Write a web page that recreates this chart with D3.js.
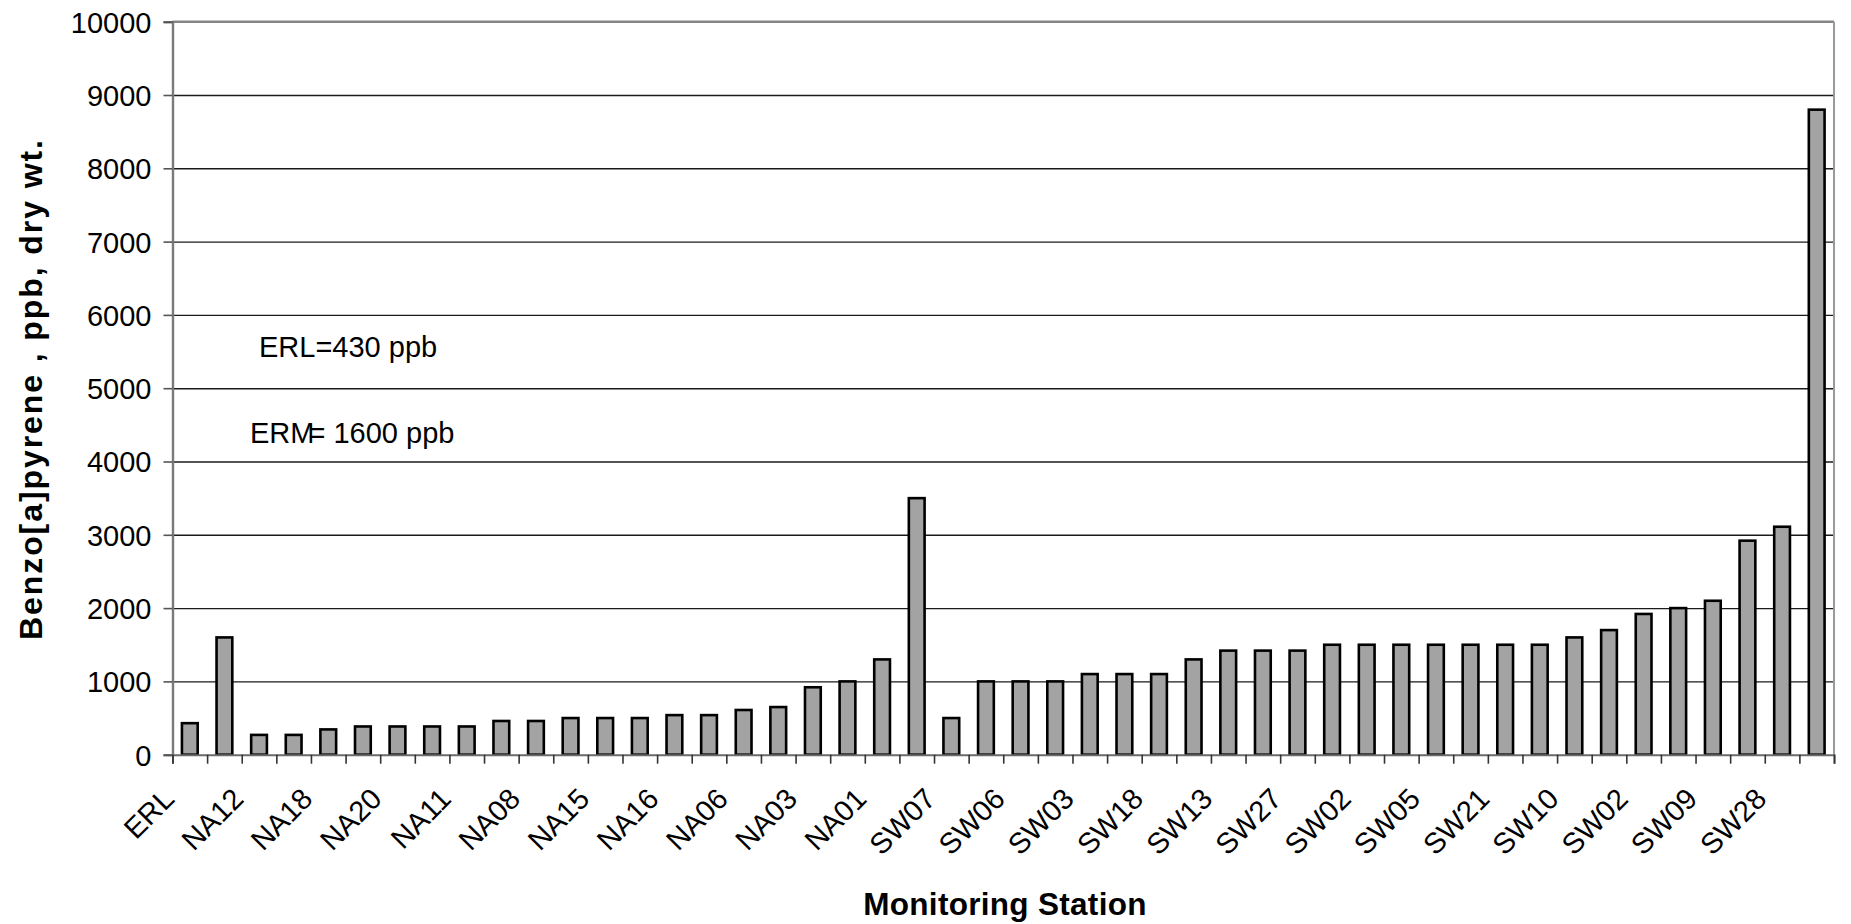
<!DOCTYPE html>
<html>
<head>
<meta charset="utf-8">
<script src="https://cdn.jsdelivr.net/npm/d3@7"></script>
<style>
  html, body { margin: 0; padding: 0; background: #fff; }
  svg { display: block; font-family: "Liberation Sans", Arial, sans-serif; }
</style>
</head>
<body>
<svg id="chart" width="1851" height="924"></svg>
<script>
// Benzo[a]pyrene concentration per monitoring station (ppb, dry wt.), in plotted order.
const values = [
  430, 1600, 270, 270, 345, 385, 385, 385, 385, 460,
  460, 500, 500, 500, 540, 540, 610, 650, 920, 1000,
  1300, 3500, 500, 1000, 1000, 1000, 1100, 1100, 1100, 1300,
  1420, 1420, 1420, 1500, 1500, 1500, 1500, 1500, 1500, 1500,
  1600, 1700, 1920, 2000, 2100, 2920, 3110, 8800
];

// Station names shown on the axis (every second bar carries a label).
const stationLabels = [
  "ERL", "NA12", "NA18", "NA20", "NA11", "NA08", "NA15", "NA16",
  "NA06", "NA03", "NA01", "SW07", "SW06", "SW03", "SW18", "SW13",
  "SW27", "SW02", "SW05", "SW21", "SW10", "SW02", "SW09", "SW28"
];
const labelStep = 2;

// Value axis ticks
const yTicks = [0, 1000, 2000, 3000, 4000, 5000, 6000, 7000, 8000, 9000, 10000];
const yMax = 10000;

// Reference levels written in the plot
const notes = [
  { text: "ERL=430 ppb", gap: false },
  { text: "ERM= 1600 ppb", gap: true }
];

const svg = d3.select("#chart");
const m = { left: 172.5, right: 1834, top: 21.7, bottom: 754.7 };
const W = m.right - m.left, H = m.bottom - m.top;

const idx = d3.range(values.length);
const x = d3.scaleBand().domain(idx).range([m.left, m.right]).paddingInner(0.545).paddingOuter(0.2725);
const xEdge = d3.scaleLinear().domain([0, values.length]).range([m.left, m.right]);
const y = d3.scaleLinear().domain([0, yMax]).range([m.bottom, m.top]);

// Horizontal gridlines
svg.append("g")
  .attr("transform", `translate(${m.left},0)`)
  .call(d3.axisLeft(y).tickValues(yTicks.filter(v => v > 0 && v < yMax)).tickSize(-W).tickFormat(""))
  .call(g => g.select(".domain").remove())
  .call(g => g.selectAll("line").attr("stroke", "#1a1a1a").attr("stroke-width", 1.4));

// Plot frame: top and right edges
svg.append("line").attr("x1", m.left).attr("x2", m.right).attr("y1", y(yMax)).attr("y2", y(yMax))
  .attr("stroke", "#858585").attr("stroke-width", 2.4);
svg.append("line").attr("x1", m.right).attr("x2", m.right).attr("y1", y(yMax)).attr("y2", m.bottom)
  .attr("stroke", "#9a9a9a").attr("stroke-width", 2);

// Bars
svg.append("g").selectAll("rect").data(values).join("rect")
  .attr("x", (d, i) => x(i))
  .attr("y", d => y(d))
  .attr("width", x.bandwidth())
  .attr("height", d => y(0) - y(d))
  .attr("fill", "#a3a3a3")
  .attr("stroke", "#000")
  .attr("stroke-width", 2.6);

// Value axis
svg.append("g")
  .attr("transform", `translate(${m.left},0)`)
  .call(d3.axisLeft(y).tickValues(yTicks).tickSize(9).tickPadding(12).tickFormat(d3.format("d")))
  .call(g => g.select(".domain").attr("stroke", "#7a7a7a").attr("stroke-width", 2.4))
  .call(g => g.selectAll(".tick line").attr("stroke", "#555").attr("stroke-width", 1.6))
  .call(g => g.selectAll("text").attr("fill", "#000").attr("font-size", 29)
    .attr("font-family", "'Liberation Sans', Arial, sans-serif").attr("dy", "0.36em"));

// Category axis: tick marks at band edges
svg.append("g")
  .attr("transform", `translate(0,${m.bottom})`)
  .call(d3.axisBottom(xEdge).tickValues(d3.range(values.length + 1)).tickSize(9).tickFormat(""))
  .call(g => g.select(".domain").attr("stroke", "#6a6a6a").attr("stroke-width", 2))
  .call(g => g.selectAll(".tick line").attr("stroke", "#333").attr("stroke-width", 1.6));

// Category labels, rotated
svg.append("g").selectAll("text")
  .data(stationLabels)
  .join("text")
  .attr("transform", (d, k) => {
    const cx = x(k * labelStep) + x.bandwidth() / 2;
    return `translate(${cx - 14},${m.bottom + 46}) rotate(-45)`;
  })
  .attr("text-anchor", "end")
  .attr("font-size", 29)
  .attr("fill", "#000")
  .text(d => d);

// Annotations
svg.append("text").attr("x", 259).attr("y", 357).attr("font-size", 29).attr("fill", "#000").text(notes[0].text);
const erm = svg.append("text").attr("x", 250).attr("y", 443).attr("font-size", 29).attr("fill", "#000");
erm.append("tspan").text("ERM");
erm.append("tspan").attr("dx", notes[1].gap ? -6 : 0).text(notes[1].text.slice(3));

// Axis titles
svg.append("text")
  .attr("x", 1005).attr("y", 915)
  .attr("text-anchor", "middle")
  .attr("font-size", 31.5).attr("font-weight", "bold")
  .attr("letter-spacing", 0.3)
  .text("Monitoring Station");

svg.append("text")
  .attr("transform", `translate(42,390) rotate(-90)`)
  .attr("text-anchor", "middle")
  .attr("font-size", 32).attr("font-weight", "bold")
  .attr("textLength", 500).attr("lengthAdjust", "spacing")
  .text("Benzo[a]pyrene , ppb, dry wt.");
</script>
</body>
</html>
